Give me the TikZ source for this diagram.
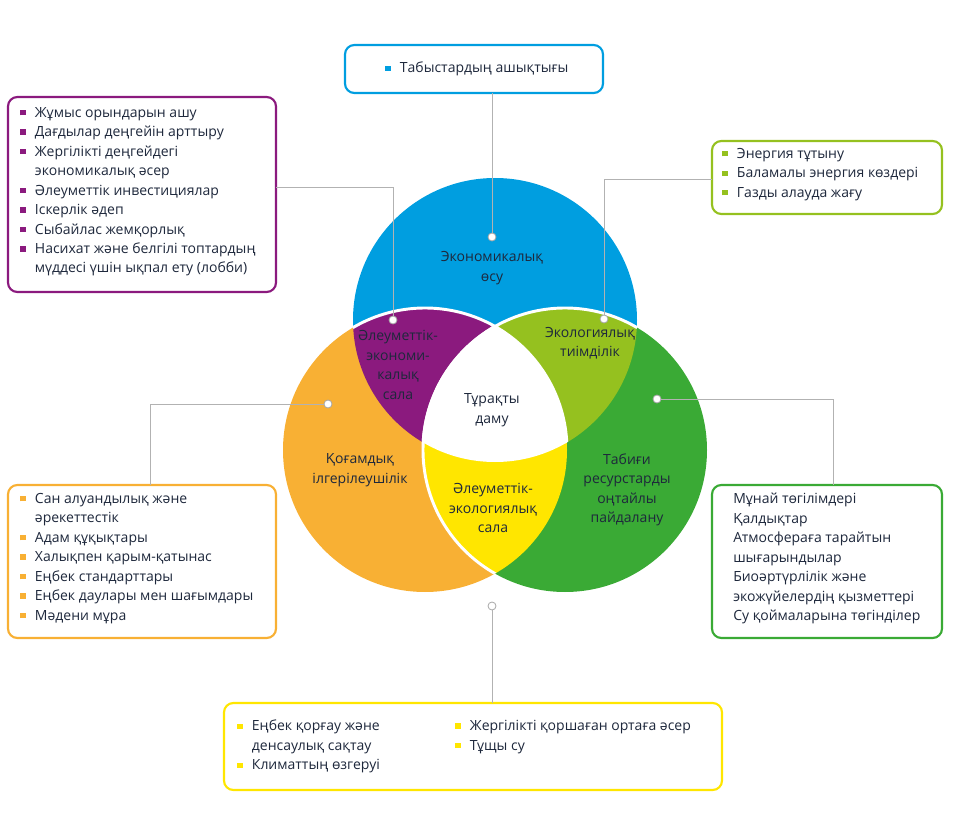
\documentclass[tikz,border=0pt]{standalone}
\usepackage{fontspec}
\setmainfont{Open Sans}
\definecolor{cBlue}{RGB}{0,158,224}
\definecolor{cOrange}{RGB}{248,176,52}
\definecolor{cGreen}{RGB}{58,170,53}
\definecolor{cPurple}{RGB}{139,26,126}
\definecolor{cLime}{RGB}{149,193,31}
\definecolor{cYellow}{RGB}{255,230,0}
\definecolor{cText}{RGB}{30,40,60}
\newcommand\bsq[1]{\textcolor{#1}{\rule[1.5pt]{4pt}{4pt}}\hspace{7pt}}
\newcommand\nob{\hspace{11pt}}
\begin{document}
\begin{tikzpicture}[x=0.75pt,y=-0.75pt,
    box/.style={rounded corners=7pt, line width=1.6pt, fill=white},
    lst/.style={anchor=north west, align=left, inner sep=0pt, text=cText,
        font=\fontsize{10.5}{14.6}\selectfont},
    lab/.style={align=center, text=cText, font=\fontsize{10.5}{14.6}\selectfont},
    dot/.style={circle, draw=gray!70, fill=white, line width=0.6pt, minimum size=6pt, inner sep=0pt},
    link/.style={draw=gray!60, line width=0.6pt}
  ]
  \useasboundingbox (0,0) rectangle (958,824);

  % circles
  \fill[cBlue] (495,320) circle (142);
  \fill[cOrange] (425,450) circle (142);
  \fill[cGreen] (565,450) circle (142);
  \begin{scope}
    \clip (495,320) circle (142);
    \fill[cPurple] (425,450) circle (142);
    \fill[cLime] (565,450) circle (142);
  \end{scope}
  \begin{scope}
    \clip (425,450) circle (142);
    \fill[cYellow] (565,450) circle (142);
    \clip (565,450) circle (142);
    \fill[white] (495,320) circle (142);
  \end{scope}
  \begin{scope}
    \clip (495,320) circle (142);
    \draw[white, line width=2.2pt] (425,450) circle (142) (565,450) circle (142);
  \end{scope}
  \begin{scope}
    \clip (425,450) circle (142);
    \draw[white, line width=2.2pt] (565,450) circle (142);
  \end{scope}

  % region labels
  \node[lab] (econ) at (492,268) {Экономикалық\\өсу};
  \node[lab] (soceco) at (398,365) {Әлеуметтік-\\экономи-\\калық\\сала};
  \node[lab] (ecol) at (590,343) {Экологиялық\\тиімділік};
  \node[lab] (sust) at (492,410) {Тұрақты\\даму};
  \node[lab] (soc) at (360,470) {Қоғамдық\\ілгерілеушілік};
  \node[lab] (socecol) at (493,508) {Әлеуметтік-\\экологиялық\\сала};
  \node[lab] (nat) at (627,490) {Табиғи\\ресурстарды\\оңтайлы\\пайдалану};

  % dots
  \node[dot] (dTop) at (492,237) {};
  \node[dot] (dPur) at (393,320) {};
  \node[dot] (dLime) at (604,319) {};
  \node[dot] (dOr) at (328,404) {};
  \node[dot] (dGr) at (657,399) {};
  \node[dot] (dYel) at (492,606) {};

  % boxes
  \draw[box, draw=cBlue] (345,45) rectangle (603,93);
  \draw[box, draw=cPurple] (8,97) rectangle (276,292);
  \draw[box, draw=cLime] (712,141) rectangle (942,214);
  \draw[box, draw=cOrange] (8,485) rectangle (276,638);
  \draw[box, draw=cGreen] (712,485) rectangle (942,638);
  \draw[box, draw=cYellow] (224,703) rectangle (722,790);
  \coordinate (bTop) at (492,93);
  \coordinate (bPur) at (276,187);
  \coordinate (bLime) at (712,179);
  \coordinate (bOr) at (150,485);
  \coordinate (bGr) at (833,485);
  \coordinate (bYel) at (492,703);

  % links
  \draw[link] (dTop) -- (bTop);
  \draw[link] (dPur) |- (bPur);
  \draw[link] (dLime) |- (bLime);
  \draw[link] (dOr) -| (bOr);
  \draw[link] (dGr) -| (bGr);
  \draw[link] (dYel) -- (bYel);

  % lists
  \node[lst] (tTop) at (385,62) {\bsq{cBlue}Табыстардың ашықтығы};
  \node[lst] (tPur) at (20,107) {\bsq{cPurple}Жұмыс орындарын ашу\\
    \bsq{cPurple}Дағдылар деңгейін арттыру\\
    \bsq{cPurple}Жергілікті деңгейдегі\\
    \nob экономикалық әсер\\
    \bsq{cPurple}Әлеуметтік инвестициялар\\
    \bsq{cPurple}Іскерлік әдеп\\
    \bsq{cPurple}Сыбайлас жемқорлық\\
    \bsq{cPurple}Насихат және белгілі топтардың\\
    \nob мүддесі үшін ықпал ету (лобби)};
  \node[lst] (tLime) at (722,148) {\bsq{cLime}Энергия тұтыну\\
    \bsq{cLime}Баламалы энергия көздері\\
    \bsq{cLime}Газды алауда жағу};
  \node[lst] (tOr) at (20,493) {\bsq{cOrange}Сан алуандылық және\\
    \nob әрекеттестік\\
    \bsq{cOrange}Адам құқықтары\\
    \bsq{cOrange}Халықпен қарым-қатынас\\
    \bsq{cOrange}Еңбек стандарттары\\
    \bsq{cOrange}Еңбек даулары мен шағымдары\\
    \bsq{cOrange}Мәдени мұра};
  \node[lst] (tGr) at (733,493) {Мұнай төгілімдері\\
    Қалдықтар\\
    Атмосфераға тарайтын\\
    шығарындылар\\
    Биоәртүрлілік және\\
    экожүйелердің қызметтері\\
    Су қоймаларына төгінділер};
  \node[lst] (tYel1) at (237,720) {\bsq{cYellow}Еңбек қорғау және\\
    \nob денсаулық сақтау\\
    \bsq{cYellow}Климаттың өзгеруі};
  \node[lst] (tYel2) at (455,720) {\bsq{cYellow}Жергілікті қоршаған ортаға әсер\\
    \bsq{cYellow}Тұщы су};
\end{tikzpicture}
\end{document}
